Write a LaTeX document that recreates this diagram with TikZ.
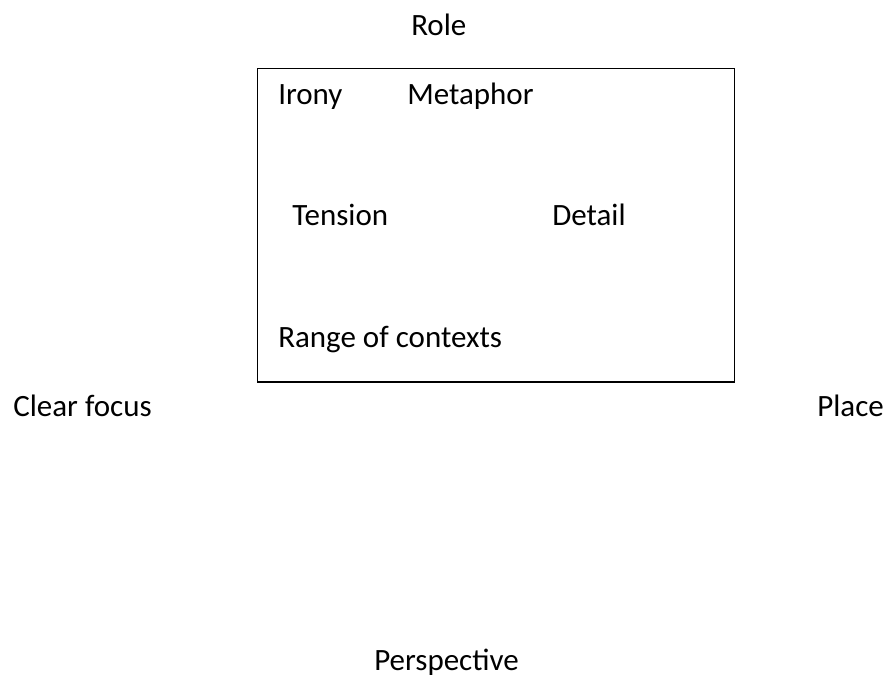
\documentclass[tikz,border=0pt]{standalone}
\usepackage{fontspec}
\setmainfont{Carlito}
\usetikzlibrary{positioning}
\definecolor{Ink}{HTML}{000000}
\tikzset{
  lbl/.style={anchor=base west,inner sep=0pt,text=Ink,font=\fontsize{23.25}{28}\selectfont},
  frame/.style={draw=Ink,line width=1.3pt},
}
\begin{document}
\begin{tikzpicture}[x=0.75pt,y=-0.75pt]
\path[use as bounding box] (0,0) rectangle (889,679);
% -top-
\node[lbl] (role) at (411,35) {Role};
% -box-
\draw[frame] (257.5,68.5) rectangle (734.5,382);
\node[lbl] (irony) at (278,104) {Irony};
\node[lbl] (meta) at (407,104) {Metaphor};
\node[lbl] (tens) at (292,225) {Tension};
\node[lbl] (det) at (552,225) {Detail};
\node[lbl] (range) at (278,347) {Range of contexts};
% -sides-
\node[lbl] (focus) at (13,416) {Clear focus};
\node[lbl] (place) at (817,416) {Place};
% -bottom-
\node[lbl] (persp) at (374,670) {Perspective};
\end{tikzpicture}
\end{document}
